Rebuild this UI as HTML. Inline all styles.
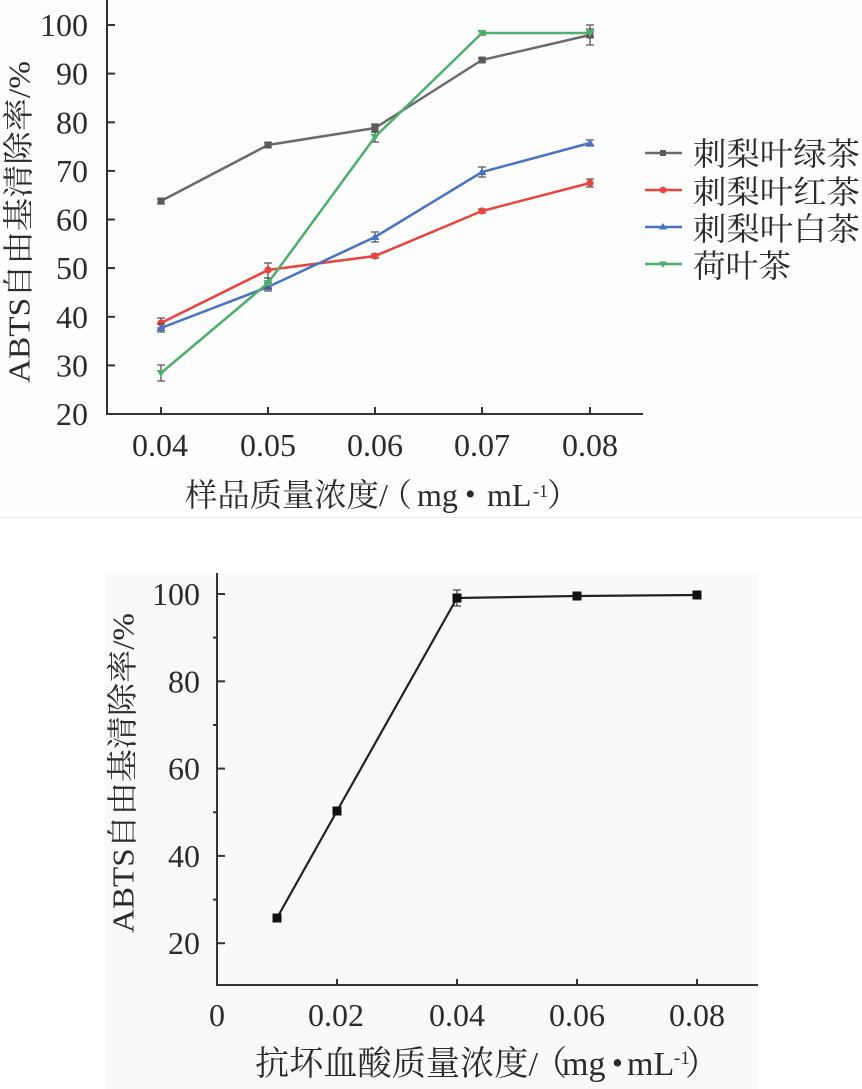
<!DOCTYPE html>
<html><head><meta charset="utf-8">
<style>
html,body{margin:0;padding:0;background:#fff;}
svg{display:block;}
text{font-family:"Liberation Serif","Noto Serif CJK SC",serif;fill:#2b2b2b;}
.cjk{font-family:"Noto Serif CJK SC","Liberation Serif",serif;}
</style></head>
<body>
<svg width="862" height="1089" viewBox="0 0 862 1089" xmlns="http://www.w3.org/2000/svg">
<!-- panels -->
<rect x="0" y="0" width="862" height="517" fill="#fdfdfd"/>
<line x1="0" y1="517.5" x2="862" y2="517.5" stroke="#ececec" stroke-width="1"/>
<rect x="105" y="573" width="653" height="516" fill="#f9f9f9"/>

<!-- ============ TOP CHART ============ -->
<g stroke="#333" stroke-width="2" fill="none">
  <line x1="107" y1="0" x2="107" y2="415"/>
  <line x1="106" y1="414" x2="643" y2="414"/>
</g>
<g stroke="#333" stroke-width="2">
  <line x1="107" y1="25" x2="115" y2="25"/>
  <line x1="107" y1="73.6" x2="115" y2="73.6"/>
  <line x1="107" y1="122.3" x2="115" y2="122.3"/>
  <line x1="107" y1="170.9" x2="115" y2="170.9"/>
  <line x1="107" y1="219.5" x2="115" y2="219.5"/>
  <line x1="107" y1="268.1" x2="115" y2="268.1"/>
  <line x1="107" y1="316.8" x2="115" y2="316.8"/>
  <line x1="107" y1="365.4" x2="115" y2="365.4"/>
  <line x1="161" y1="414" x2="161" y2="407"/>
  <line x1="268" y1="414" x2="268" y2="407"/>
  <line x1="375" y1="414" x2="375" y2="407"/>
  <line x1="482" y1="414" x2="482" y2="407"/>
  <line x1="590" y1="414" x2="590" y2="407"/>
</g>
<g font-size="32" text-anchor="end">
  <text x="88" y="36">100</text>
  <text x="88" y="84.6">90</text>
  <text x="88" y="133.3">80</text>
  <text x="88" y="181.9">70</text>
  <text x="88" y="230.5">60</text>
  <text x="88" y="279.1">50</text>
  <text x="88" y="327.8">40</text>
  <text x="88" y="376.4">30</text>
  <text x="88" y="425">20</text>
</g>
<g font-size="32" text-anchor="middle">
  <text x="160" y="456">0.04</text>
  <text x="268" y="456">0.05</text>
  <text x="375" y="456">0.06</text>
  <text x="482" y="456">0.07</text>
  <text x="590" y="456">0.08</text>
</g>
<!-- top y label -->
<text transform="translate(19,222) rotate(-90)" font-size="31" text-anchor="middle" dominant-baseline="central" textLength="322" lengthAdjust="spacingAndGlyphs">ABTS自由基清除率/%</text>
<!-- top x label -->
<text x="185" y="506" font-size="32" textLength="203" lengthAdjust="spacingAndGlyphs">样品质量浓度/</text>
<text class="cjk" x="380" y="506" font-size="32">（</text>
<text x="417" y="506" font-size="32">mg</text>
<text x="465" y="504" font-size="30">•</text>
<text x="487" y="506" font-size="32">mL</text>
<text x="533" y="497" font-size="18">-1</text>
<text class="cjk" x="547" y="506" font-size="32">）</text>

<!-- series: gray -->
<g stroke="#555" stroke-width="1.3" fill="none">
  <path d="M161 199v5M157 199h8M157 204h8"/>
  <path d="M268 142.5v5M264 142.5h8M264 147.5h8"/>
  <path d="M375 124v8M371 124h8M371 132h8"/>
  <path d="M482 58v4M478 58h8M478 62h8"/>
  <path d="M590 25v20M586 25h8M586 45h8"/>
</g>
<polyline points="161,201 268,145 375,128 482,60 590,35" fill="none" stroke="#6a6a6a" stroke-width="2.5"/>
<g fill="#5a5a5a">
  <rect x="157.5" y="197.5" width="7" height="7"/>
  <rect x="264.5" y="141.5" width="7" height="7"/>
  <rect x="371.5" y="124.5" width="7" height="7"/>
  <rect x="478.5" y="56.5" width="7" height="7"/>
  <rect x="586.5" y="31.5" width="7" height="7"/>
</g>
<!-- red -->
<g stroke="#555" stroke-width="1.3" fill="none">
  <path d="M161 318v10M157 318h8M157 328h8"/>
  <path d="M268 263v15M264 263h8M264 278h8"/>
  <path d="M375 254v4M371 254h8M371 258h8"/>
  <path d="M482 209v4M478 209h8M478 213h8"/>
  <path d="M590 179v8M586 179h8M586 187h8"/>
</g>
<polyline points="161,323 268,270 375,256 482,211 590,183" fill="none" stroke="#e8443c" stroke-width="2.5"/>
<g fill="#e8443c">
  <circle cx="161" cy="323" r="3.6"/>
  <circle cx="268" cy="270" r="3.6"/>
  <circle cx="375" cy="256" r="3.6"/>
  <circle cx="482" cy="211" r="3.6"/>
  <circle cx="590" cy="183" r="3.6"/>
</g>
<!-- blue -->
<g stroke="#555" stroke-width="1.3" fill="none">
  <path d="M161 324v8M157 324h8M157 332h8"/>
  <path d="M268 283v8M264 283h8M264 291h8"/>
  <path d="M375 232v10M371 232h8M371 242h8"/>
  <path d="M482 167v10M478 167h8M478 177h8"/>
  <path d="M590 140v6M586 140h8M586 146h8"/>
</g>
<polyline points="161,328 268,287 375,237 482,172 590,143" fill="none" stroke="#4a72c2" stroke-width="2.5"/>
<g fill="#4a72c2">
  <path d="M161 324l4.5 7h-9z"/>
  <path d="M268 283l4.5 7h-9z"/>
  <path d="M375 233l4.5 7h-9z"/>
  <path d="M482 168l4.5 7h-9z"/>
  <path d="M590 139l4.5 7h-9z"/>
</g>
<!-- green -->
<g stroke="#555" stroke-width="1.3" fill="none">
  <path d="M161 365v16M157 365h8M157 381h8"/>
  <path d="M268 278v10M264 278h8M264 288h8"/>
  <path d="M375 132v10M371 132h8M371 142h8"/>
  <path d="M482 31v4M478 31h8M478 35h8"/>
  <path d="M590 29v8M586 29h8M586 37h8"/>
</g>
<polyline points="161,373 268,283 375,137 482,33 590,33" fill="none" stroke="#4caf6c" stroke-width="2.5"/>
<g fill="#4caf6c">
  <path d="M161 377l4.5 -7h-9z"/>
  <path d="M268 287l4.5 -7h-9z"/>
  <path d="M375 141l4.5 -7h-9z"/>
  <path d="M482 37l4.5 -7h-9z"/>
  <path d="M590 37l4.5 -7h-9z"/>
</g>

<!-- legend -->
<g stroke-width="2.4">
  <line x1="645" y1="153" x2="682" y2="153" stroke="#6a6a6a"/>
  <line x1="645" y1="190" x2="682" y2="190" stroke="#e8443c"/>
  <line x1="645" y1="227" x2="682" y2="227" stroke="#4a72c2"/>
  <line x1="645" y1="264" x2="682" y2="264" stroke="#4caf6c"/>
</g>
<rect x="660" y="150" width="6" height="6" fill="#5a5a5a"/>
<circle cx="663" cy="190" r="3.4" fill="#e8443c"/>
<path d="M663 223l4 6.5h-8z" fill="#4a72c2"/>
<path d="M663 268l4 -6.5h-8z" fill="#4caf6c"/>
<g font-size="32" class="cjk" dominant-baseline="central">
  <text class="cjk" x="693" y="152" textLength="167" lengthAdjust="spacingAndGlyphs">刺梨叶绿茶</text>
  <text class="cjk" x="693" y="190" textLength="167" lengthAdjust="spacingAndGlyphs">刺梨叶红茶</text>
  <text class="cjk" x="693" y="227" textLength="167" lengthAdjust="spacingAndGlyphs">刺梨叶白茶</text>
  <text class="cjk" x="693" y="264" textLength="98" lengthAdjust="spacingAndGlyphs">荷叶茶</text>
</g>

<!-- ============ BOTTOM CHART ============ -->
<g stroke="#333" stroke-width="2" fill="none">
  <line x1="217" y1="573" x2="217" y2="986"/>
  <line x1="216" y1="985" x2="758" y2="985"/>
</g>
<g stroke="#333" stroke-width="2">
  <line x1="217" y1="594" x2="225" y2="594"/>
  <line x1="217" y1="681.3" x2="225" y2="681.3"/>
  <line x1="217" y1="768.6" x2="225" y2="768.6"/>
  <line x1="217" y1="855.9" x2="225" y2="855.9"/>
  <line x1="217" y1="943.2" x2="225" y2="943.2"/>
  <line x1="213" y1="637.6" x2="217" y2="637.6"/>
  <line x1="213" y1="725" x2="217" y2="725"/>
  <line x1="213" y1="812.3" x2="217" y2="812.3"/>
  <line x1="213" y1="899.6" x2="217" y2="899.6"/>
  <line x1="337" y1="985" x2="337" y2="979"/>
  <line x1="457" y1="985" x2="457" y2="979"/>
  <line x1="577" y1="985" x2="577" y2="979"/>
  <line x1="697" y1="985" x2="697" y2="979"/>
</g>
<g font-size="32" text-anchor="end">
  <text x="200" y="605">100</text>
  <text x="200" y="692.3">80</text>
  <text x="200" y="779.6">60</text>
  <text x="200" y="866.9">40</text>
  <text x="200" y="954.2">20</text>
</g>
<g font-size="32" text-anchor="middle">
  <text x="217" y="1026">0</text>
  <text x="336" y="1026">0.02</text>
  <text x="457" y="1026">0.04</text>
  <text x="577" y="1026">0.06</text>
  <text x="697" y="1026">0.08</text>
</g>
<text transform="translate(123,773) rotate(-90)" font-size="31" text-anchor="middle" dominant-baseline="central" textLength="320" lengthAdjust="spacingAndGlyphs">ABTS自由基清除率/%</text>
<text x="255" y="1075" font-size="34" textLength="283" lengthAdjust="spacingAndGlyphs">抗坏血酸质量浓度/</text>
<text class="cjk" x="533" y="1075" font-size="34">（</text>
<text x="562" y="1075" font-size="34">mg</text>
<text x="612" y="1073" font-size="31">•</text>
<text x="627" y="1075" font-size="34">mL</text>
<text x="674" y="1064" font-size="19">-1</text>
<text class="cjk" x="685" y="1075" font-size="34">）</text>

<g stroke="#444" stroke-width="1.3" fill="none">
  <path d="M457 590v16M453 590h8M453 606h8"/>
</g>
<polyline points="277,918 337,811 457,598 577,596 697,595" fill="none" stroke="#222" stroke-width="2.2"/>
<g fill="#111">
  <rect x="272.5" y="913.5" width="9" height="9"/>
  <rect x="332.5" y="806.5" width="9" height="9"/>
  <rect x="452.5" y="593.5" width="9" height="9"/>
  <rect x="572.5" y="591.5" width="9" height="9"/>
  <rect x="692.5" y="590.5" width="9" height="9"/>
</g>
</svg>
</body></html>
